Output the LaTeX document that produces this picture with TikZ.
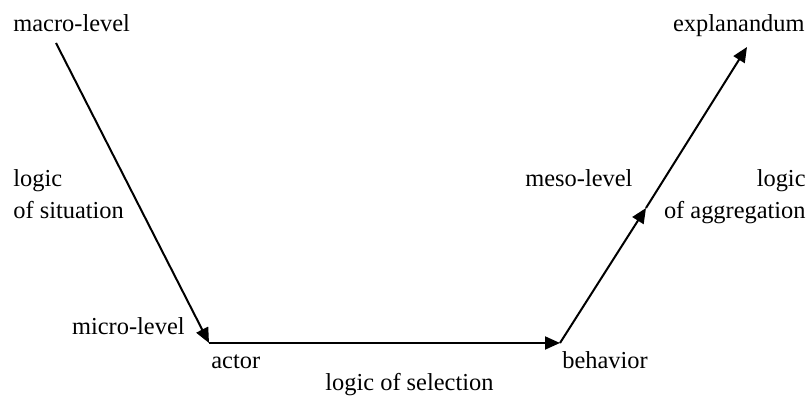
\documentclass[tikz,border=0pt]{standalone}
\usepackage{fontspec}
\setmainfont{Liberation Serif}
\newfontfamily\lblfont{Liberation Serif}
\usetikzlibrary{arrows.meta}
\tikzset{
	lbl/.style={inner sep=0pt, font=\lblfont\fontsize{12.2}{14}\selectfont},
	lvl/.style={line width=1pt, -{Triangle[length=7.5pt,width=6.5pt]}}
}

\begin{document}
\begin{tikzpicture}[x=0.5pt, y=-0.5pt]
			%%%%% START %%%%%
			\useasboundingbox (0, 0) rectangle (810, 399);
			
			\coordinate (macro) at (56, 43);
			\coordinate (micro) at (209, 343);
			\coordinate (behav) at (560, 343);
			\coordinate (meso) at (646, 208);
			\coordinate (expl) at (747, 47);
			
			\node[lbl, anchor=base west] (macrotxt) at (13, 32) {macro-level};
			\node[lbl, anchor=base east] (expltxt) at (805, 32) {explanandum};
			
			\node[lbl, anchor=base west] (sitA) at (13, 187) {logic};
			\node[lbl, anchor=base west] (sitB) at (13, 219) {of situation};
			
			\node[lbl, anchor=base west] (mesotxt) at (525, 187) {meso-level};
			\node[lbl, anchor=base east] (aggA) at (806, 187) {logic};
			\node[lbl, anchor=base east] (aggB) at (806, 219) {of aggregation};
			
			\node[lbl, anchor=base east] (microtxt) at (185, 335) {micro-level};
			\node[lbl, anchor=base west] (actor) at (211, 369) {actor};
			\node[lbl, anchor=base west] (behavior) at (562, 369) {behavior};
			\node[lbl, anchor=base west] (seltxt) at (325, 391) {logic of selection};
			
			\draw[lvl] (macro) -- (micro);
			\draw[lvl] (micro) -- (behav);
			\draw[lvl] (behav) -- (meso);
			\draw[lvl] (meso) -- (expl);
			
			%%%%% END %%%%%
		\end{tikzpicture}
\end{document}
